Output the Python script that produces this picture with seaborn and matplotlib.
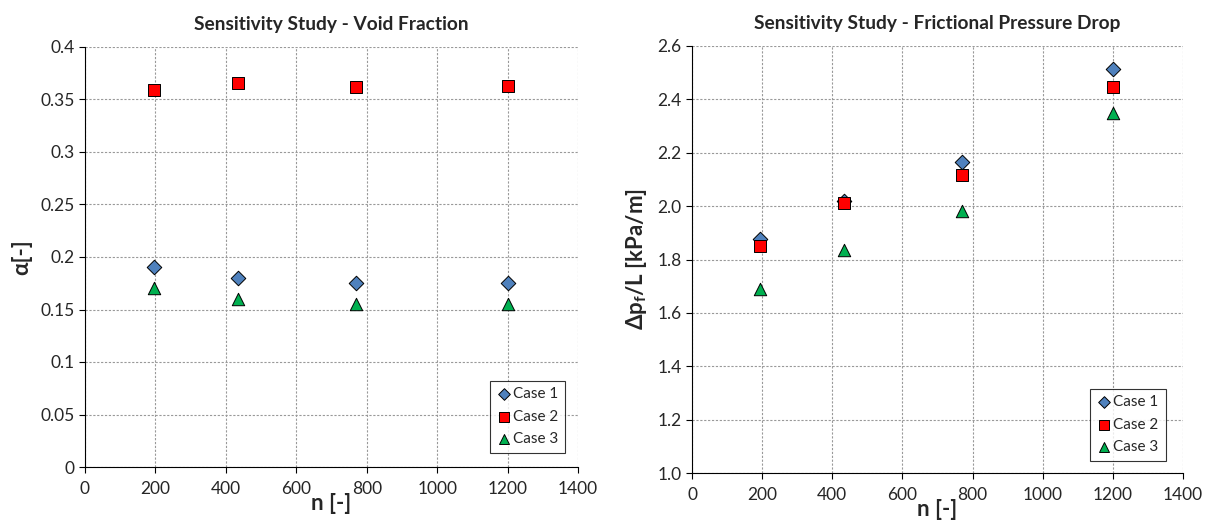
import matplotlib
matplotlib.use("Agg")
import matplotlib.pyplot as plt
import seaborn as sns
import pandas as pd
from matplotlib.ticker import FormatStrFormatter, FuncFormatter

# ---- data ----
cases = ["Case 1", "Case 2", "Case 3"]
n_void = [195, 435, 770, 1200]
void_case1 = [0.19, 0.18, 0.175, 0.175]
void_case2 = [0.359, 0.366, 0.362, 0.363]
void_case3 = [0.17, 0.16, 0.155, 0.155]

n_dp = [193, 433, 769, 1200]
dp_case1 = [1.875, 2.02, 2.165, 2.515]
dp_case2 = [1.85, 2.01, 2.115, 2.445]
dp_case3 = [1.69, 1.835, 1.98, 2.35]

x_ticks = [0, 200, 400, 600, 800, 1000, 1200, 1400]

def long_df(n, vals):
    rows = []
    for c, v in zip(cases, vals):
        for xi, yi in zip(n, v):
            rows.append({"n": xi, "y": yi, "case": c})
    return pd.DataFrame(rows)

df_void = long_df(n_void, [void_case1, void_case2, void_case3])
df_dp = long_df(n_dp, [dp_case1, dp_case2, dp_case3])

sns.set_style("white")
plt.rcParams["font.family"] = ["Lato", "DejaVu Sans"]

palette = {"Case 1": "#4F81BD", "Case 2": "#FF0000", "Case 3": "#00B050"}
markers = {"Case 1": "D", "Case 2": "s", "Case 3": "^"}
sizes_mk = {"Case 1": 55, "Case 2": 85, "Case 3": 80}

fig = plt.figure(figsize=(12.11, 5.27), dpi=100)
ax1 = fig.add_axes([85/1211, 60/527, 493/1211, 420/527])
ax2 = fig.add_axes([692/1211, 54/527, 491/1211, 427/527])

def draw(ax, df, ylim, yticks, title, ylabel, yfmt, legend_anchor):
    for c in cases:
        sub = df[df["case"] == c]
        sns.scatterplot(data=sub, x="n", y="y", color=palette[c], marker=markers[c],
                        s=sizes_mk[c], edgecolor="black", linewidth=0.7, ax=ax,
                        label=c, zorder=3)
    ax.set_xlim(0, 1400)
    ax.set_ylim(*ylim)
    ax.set_xticks(x_ticks)
    ax.set_yticks(yticks)
    ax.yaxis.set_major_formatter(yfmt)
    ax.grid(True, color="#999999", linestyle=(0, (2, 1.5)), linewidth=0.8)
    ax.set_axisbelow(True)
    for s in ["top", "right"]:
        ax.spines[s].set_visible(False)
    ax.spines["left"].set_color("black")
    ax.spines["bottom"].set_color("black")
    ax.tick_params(axis="both", which="both", direction="out", length=4,
                   labelsize=12.5, left=True, bottom=True, color="black")
    ax.tick_params(axis="x", pad=6)
    ax.set_title(title, fontsize=13.8, fontweight="bold", pad=12)
    ax.set_xlabel("n [-]", fontsize=16, fontweight="bold", labelpad=-3)
    ax.set_ylabel(ylabel, fontsize=16, fontweight="bold", labelpad=6)
    leg = ax.legend(loc="lower right", bbox_to_anchor=legend_anchor, fontsize=11,
                    frameon=True, fancybox=False, edgecolor="black",
                    handletextpad=0.1, labelspacing=0.55, borderpad=0.45,
                    handlelength=1.0, markerscale=0.8)
    leg.get_frame().set_linewidth(0.8)

def fmt_general(v, pos):
    s = f"{v:.2f}".rstrip("0").rstrip(".")
    return s

draw(ax1, df_void, (0, 0.4), [0, 0.05, 0.1, 0.15, 0.2, 0.25, 0.3, 0.35, 0.4],
     "Sensitivity Study - Void Fraction", "α[-]", FuncFormatter(fmt_general),
     (0.99, 0.015))
draw(ax2, df_dp, (1.0, 2.6), [1.0, 1.2, 1.4, 1.6, 1.8, 2.0, 2.2, 2.4, 2.6],
     "Sensitivity Study - Frictional Pressure Drop",
     r"Δp$_\mathregular{f}$/L [kPa/m]", FormatStrFormatter("%.1f"),
     (0.98, 0.01))

fig.savefig("out.png", dpi=100)
